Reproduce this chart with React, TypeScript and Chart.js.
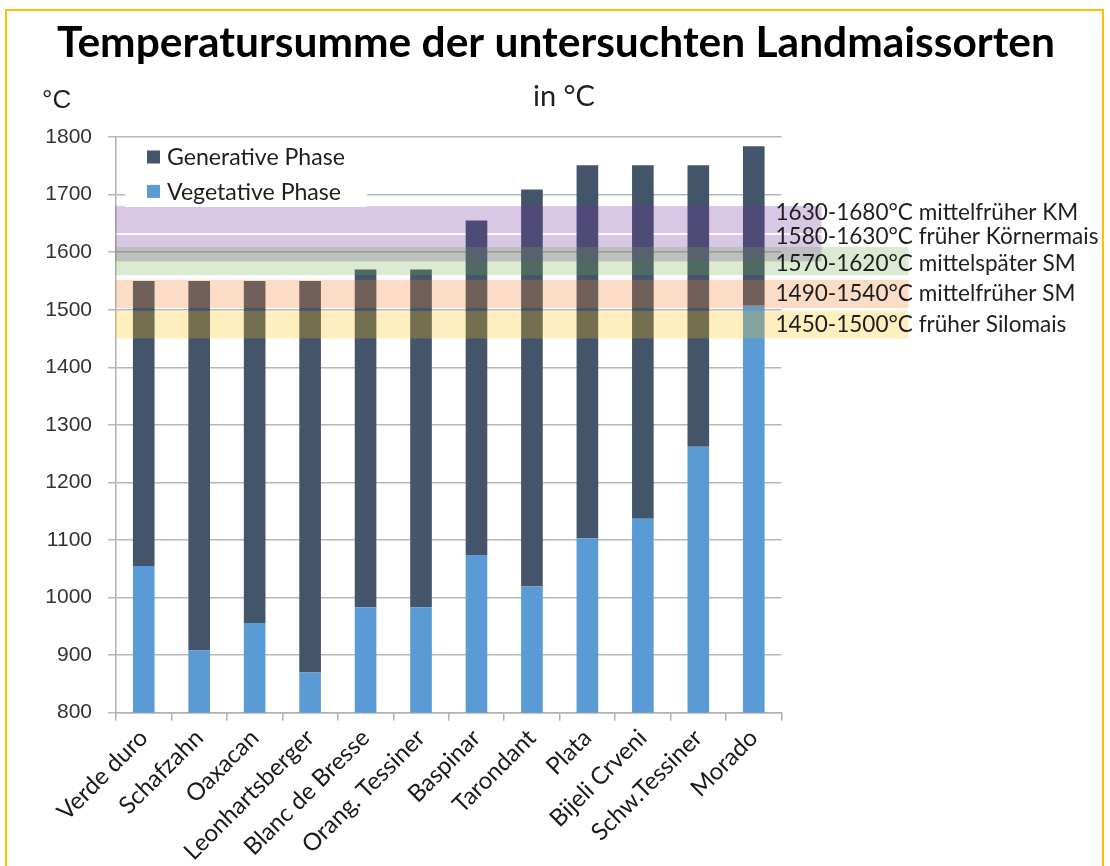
import React, { useEffect, useRef } from "react";
import { Chart, registerables } from "chart.js";

Chart.register(...registerables);

// ---------- data ----------
const categories = [
  "Verde duro",
  "Schafzahn",
  "Oaxacan",
  "Leonhartsberger",
  "Blanc de Bresse",
  "Orang. Tessiner",
  "Baspinar",
  "Tarondant",
  "Plata",
  "Bijeli Crveni",
  "Schw.Tessiner",
  "Morado",
];
const vegetative = [1055, 908, 956, 870, 983, 983, 1074, 1019, 1103, 1137, 1262, 1507];
const generative = [495, 642, 594, 680, 587, 587, 581, 690, 648, 614, 489, 277];

const seriesNames = ["Vegetative Phase", "Generative Phase"];

const yMin = 800;
const yMax = 1800;
const yStep = 100;

const bandLabels = [
  "1630-1680°C mittelfrüher KM",
  "1580-1630°C früher Körnermais",
  "1570-1620°C mittelspäter SM",
  "1490-1540°C mittelfrüher SM",
  "1450-1500°C früher Silomais",
];
const bandLow = [1633, 1584, 1560, 1503, 1450];
const bandHigh = [1680, 1630, 1609, 1552, 1498];
const bandLabelAt = [1669, 1626, 1580, 1527, 1474];

const titleText = "Temperatursumme der untersuchten Landmaissorten";
const subtitleText = "in °C";
const unitText = "°C";

// ---------- styles ----------
const DARK = "#44546a";
const LIGHT = "#5b9bd5";
const bandColors = [
  "rgba(112,48,160,0.27)",
  "rgba(112,48,160,0.27)",
  "rgba(112,173,71,0.25)",
  "rgba(237,125,49,0.27)",
  "rgba(255,192,0,0.25)",
];
const bandExtend = [40, 40, 127, 127, 127];

function fitSize(ctx: CanvasRenderingContext2D, text: string, family: string, weight: string, target: number) {
  const base = 20;
  ctx.font = `${weight} ${base}px ${family}`;
  const w = ctx.measureText(text).width;
  return (base * target) / w;
}

const overlayPlugin = {
  id: "overlayPlugin",
  afterDatasetsDraw(chart: any) {
    const { ctx, chartArea } = chart;
    const y = chart.scales.y;
    ctx.save();
    // bands
    for (let i = 0; i < bandLow.length; i++) {
      const top = y.getPixelForValue(bandHigh[i]);
      const bot = y.getPixelForValue(bandLow[i]);
      const left = chartArea.left - 1;
      const right = chartArea.right + bandExtend[i];
      ctx.fillStyle = bandColors[i];
      ctx.fillRect(left, top, right - left, bot - top);
    }
    // band labels
    const fam = "Lato, 'Open Sans', sans-serif";
    const bs = fitSize(ctx, bandLabels[0], fam, "normal", 303);
    ctx.font = `normal ${bs}px ${fam}`;
    ctx.fillStyle = "#1e1e1e";
    ctx.textAlign = "left";
    ctx.textBaseline = "middle";
    for (let i = 0; i < bandLabels.length; i++) {
      ctx.fillText(bandLabels[i], chartArea.right - 6, y.getPixelForValue(bandLabelAt[i]));
    }
    // legend
    const ls = fitSize(ctx, "Generative Phase", fam, "normal", 178);
    ctx.fillStyle = "#ffffff";
    ctx.fillRect(chartArea.left + 9, chartArea.top + 6, 242, 64);
    const entries = [
      { name: seriesNames[1], color: DARK },
      { name: seriesNames[0], color: LIGHT },
    ];
    ctx.font = `normal ${ls}px ${fam}`;
    ctx.textBaseline = "middle";
    entries.forEach((e, k) => {
      const cy = chartArea.top + 20 + k * 34.4;
      ctx.fillStyle = e.color;
      ctx.fillRect(chartArea.left + 31, cy - 6.5, 13, 13);
      ctx.fillStyle = "#1e1e1e";
      ctx.fillText(e.name, chartArea.left + 51, cy + 1);
    });
    ctx.restore();
  },
  afterDraw(chart: any) {
    const { ctx } = chart;
    ctx.save();
    ctx.fillStyle = "#000000";
    ctx.textBaseline = "alphabetic";
    ctx.textAlign = "center";
    const tf = "Lato, 'Open Sans', sans-serif";
    const ts = fitSize(ctx, titleText, tf, "bold", 998);
    ctx.font = `bold ${ts}px ${tf}`;
    ctx.fillText(titleText, 556, 57);
    ctx.fillStyle = "#1e1e1e";
    const ss = fitSize(ctx, subtitleText, tf, "normal", 62);
    ctx.font = `normal ${ss}px ${tf}`;
    ctx.fillText(subtitleText, 564, 106);
    ctx.textAlign = "left";
    ctx.font = "normal 26px 'Liberation Sans', Arial, sans-serif";
    ctx.fillText(unitText, 42, 108);
    ctx.restore();
  },
};

export default function App() {
  const ref = useRef<HTMLCanvasElement | null>(null);

  useEffect(() => {
    if (!ref.current) return;
    const chart = new Chart(ref.current, {
      type: "bar",
      data: {
        labels: categories,
        datasets: [
          {
            label: seriesNames[0],
            data: vegetative,
            backgroundColor: LIGHT,
            borderWidth: 0,
            categoryPercentage: 1,
            barPercentage: 0.39,
          },
          {
            label: seriesNames[1],
            data: generative,
            backgroundColor: DARK,
            borderWidth: 0,
            categoryPercentage: 1,
            barPercentage: 0.39,
          },
        ],
      },
      options: {
        animation: false,
        responsive: false,
        devicePixelRatio: 1,
        layout: { padding: { top: 137, right: 328.5, left: 0, bottom: 0 } },
        plugins: {
          legend: { display: false },
          tooltip: { enabled: false },
          title: { display: false },
        },
        scales: {
          x: {
            stacked: true,
            grid: {
              display: true,
              drawOnChartArea: false,
              drawTicks: true,
              tickLength: 8,
              offset: true,
              color: "#b0b0b0",
              lineWidth: 1.5,
            },
            border: { display: true, color: "#b0b0b0", width: 1.5 },
            ticks: {
              minRotation: 45,
              maxRotation: 45,
              autoSkip: false,
              padding: 3,
              color: "#1a1a1a",
              font: { family: "Lato, 'Open Sans', sans-serif", size: 24 },
            },
            afterFit(scale: any) {
              scale.height = 153.3;
            },
          },
          y: {
            stacked: true,
            min: yMin,
            max: yMax,
            grid: {
              color: "#b7b7b7",
              lineWidth: 1.5,
              tickLength: 8,
              drawTicks: true,
            },
            border: { display: true, color: "#b0b0b0", width: 1.5 },
            ticks: {
              stepSize: yStep,
              padding: 16,
              color: "#333333",
              font: { family: "'Liberation Sans', Arial, sans-serif", size: 21 },
              callback: (v: any) => String(v),
            },
            afterFit(scale: any) {
              scale.width = 116;
            },
          },
        },
      },
      plugins: [overlayPlugin],
    });
    return () => chart.destroy();
  }, []);

  return (
    <div
      style={{
        position: "absolute",
        left: 0,
        top: 0,
        width: 1110,
        height: 866,
        overflow: "hidden",
        background: "#ffffff",
      }}
    >
      <canvas
        ref={ref}
        width={1110}
        height={866}
        style={{ position: "absolute", left: 0, top: 0, width: 1110, height: 866 }}
      />
      <div
        style={{
          position: "absolute",
          left: 5,
          top: 9,
          width: 1099,
          height: 900,
          border: "2px solid #ffc000",
          boxSizing: "border-box",
          pointerEvents: "none",
        }}
      />
    </div>
  );
}
